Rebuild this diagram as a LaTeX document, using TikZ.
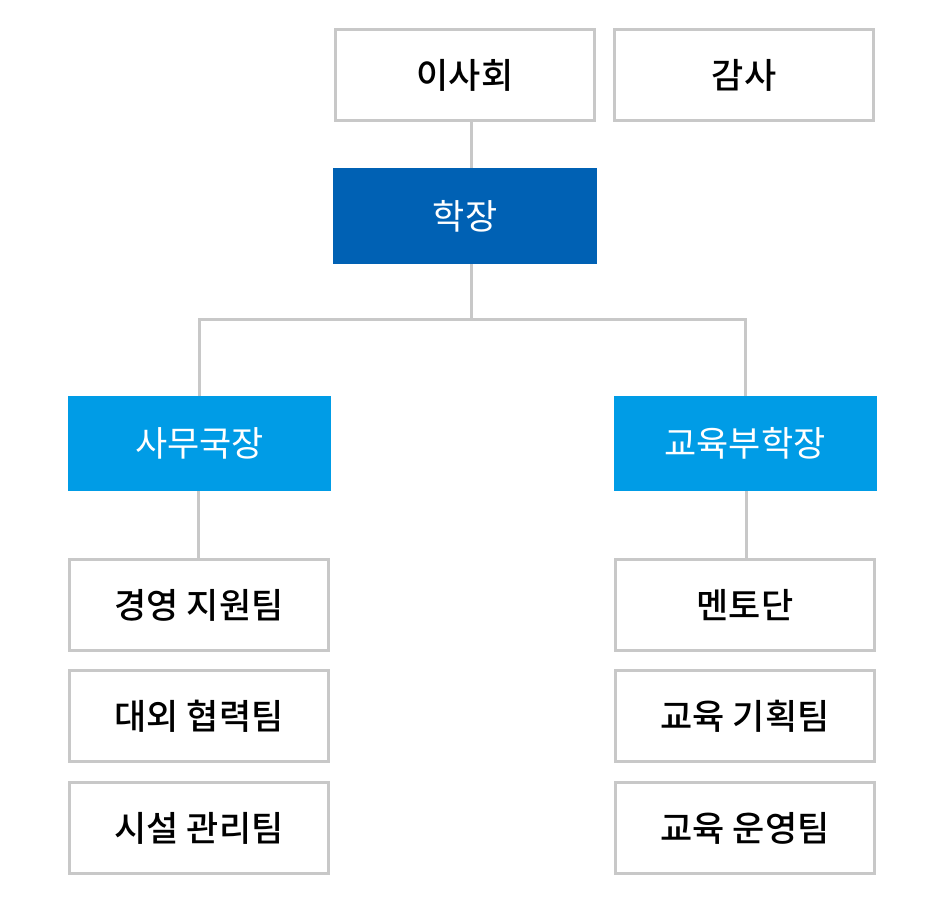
\documentclass[tikz,border=0pt]{standalone}
\usepackage{fontspec}
\setmainfont{Noto Sans CJK KR}[BoldFont={Noto Sans CJK KR Medium}]
\usepackage{tikz}
\usetikzlibrary{calc}
\usepackage{xcolor}
\definecolor{LineGray}{HTML}{C8C8C8}
\definecolor{DeanBlue}{HTML}{0061B4}
\definecolor{HeadBlue}{HTML}{009CE6}

\tikzset{
    unitbox/.style={draw=LineGray,line width=3pt,fill=white,minimum width=259pt,minimum height=91pt,font=\fontsize{35}{40}\selectfont\bfseries},
    deanbox/.style={fill=DeanBlue,text=white,minimum width=264pt,minimum height=96pt,font=\fontsize{35}{40}\selectfont},
    headbox/.style={fill=HeadBlue,text=white,minimum width=263pt,minimum height=95pt,font=\fontsize{35}{40}\selectfont},
    link/.style={draw=LineGray,line width=3pt}
}

\begin{document}
\begin{tikzpicture}[x=1pt,y=-1pt]
    \useasboundingbox (0,0) rectangle (936,900);

    \node[unitbox] (board) at (465,75) {이사회};
    \node[unitbox] (audit) at (744,75) {감사};
    \node[deanbox] (dean) at (465,216) {학장};

    \node[headbox] (admin) at (199.5,443.5) {사무국장};
    \node[headbox] (vice) at (745,443.5) {교육부학장};

    \node[unitbox] (mgmt) at (199,605) {경영 지원팀};
    \node[unitbox] (extl) at (199,716) {대외 협력팀};
    \node[unitbox] (fac) at (199,828) {시설 관리팀};

    \node[unitbox] (mentor) at (745,605) {멘토단};
    \node[unitbox] (plan) at (745,716) {교육 기획팀};
    \node[unitbox] (oper) at (745,828) {교육 운영팀};

    % connectors
    \coordinate (split) at ($(dean.south)+(6,55)$);
    \draw[link] ([xshift=6pt]board.south) -- ([xshift=6pt]dean.north);
    \draw[link] ([xshift=6pt]dean.south) -- (split);
    \draw[link] (split) -| (admin.north);
    \draw[link] (split) -| (vice.north);
    \draw[link] ([xshift=-1pt]admin.south) -- ([xshift=-1pt]admin.south |- mgmt.north);
    \draw[link] ([xshift=1pt]vice.south) -- ([xshift=1pt]vice.south |- mentor.north);
\end{tikzpicture}
\end{document}
